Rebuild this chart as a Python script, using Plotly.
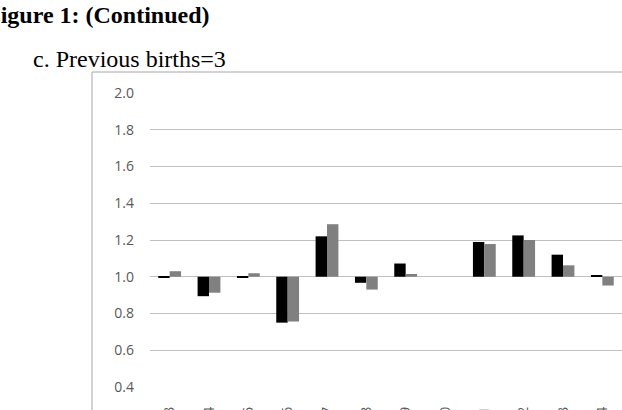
import plotly.graph_objects as go

# ---- data ----
categories = ["1993", "1994", "1995", "1996", "1997", "1998",
              "1999", "2000", "2001", "2002", "2003", "2004"]
series_black = [0.995, 0.894, 0.997, 0.750, 1.220, 0.967,
                1.072, 1.000, 1.189, 1.225, 1.120, 1.008]
series_gray = [1.030, 0.913, 1.019, 0.756, 1.286, 0.930,
               1.015, 1.000, 1.178, 1.200, 1.062, 0.952]
y_ticks = [0.4, 0.6, 0.8, 1.0, 1.2, 1.4, 1.6, 1.8, 2.0]
baseline = 1.0

W, H = 622, 410
ML, MR, MT, MB = 150, 0, 93, 23
PW, PH = W - ML - MR, H - MT - MB

fig = go.Figure()
fig.add_trace(go.Bar(
    x=categories, y=[v - baseline for v in series_black], base=baseline,
    marker=dict(color="#000000", line=dict(width=0)), name="A"))
fig.add_trace(go.Bar(
    x=categories, y=[v - baseline for v in series_gray], base=baseline,
    marker=dict(color="#808080", line=dict(width=0)), name="B"))

tick_font = dict(family="Open Sans", size=14, color="#595959")

fig.update_layout(
    width=W, height=H,
    margin=dict(l=ML, r=MR, t=MT, b=MB, pad=0, autoexpand=False),
    paper_bgcolor="white", plot_bgcolor="white",
    barmode="group", bargap=0.42, bargroupgap=0,
    showlegend=False,
    xaxis=dict(type="category", showgrid=False, showline=False, zeroline=False,
               tickangle=-90, tickfont=tick_font, ticks="",
               ticklabelstandoff=16, automargin=False),
    yaxis=dict(range=[0.3995, 2.0005], tickvals=y_ticks,
               ticktext=[f"{v:.1f}" for v in y_ticks],
               showgrid=True, gridcolor="#c0c0c0", gridwidth=1,
               showline=False, zeroline=False, ticks="",
               tickfont=tick_font, ticklabelstandoff=15, automargin=False),
)

# chart-area border (extends past the cropped right/bottom edges)
fig.add_shape(type="rect", xref="paper", yref="paper",
              x0=(92 - ML) / PW, x1=1.2, y0=-0.3, y1=(H - MB - 72) / PH,
              line=dict(color="#a6a6a6", width=1),
              fillcolor="rgba(0,0,0,0)", layer="below")

fig.add_annotation(text="<b>Figure 1: (Continued)</b>", xref="paper", yref="paper",
                   x=0, y=1, xanchor="left", yanchor="middle",
                   xshift=-166, yshift=MT - 15, showarrow=False,
                   font=dict(family="Liberation Serif", size=24, color="#000000"))
fig.add_annotation(text="c. Previous births=3", xref="paper", yref="paper",
                   x=0, y=1, xanchor="left", yanchor="middle",
                   xshift=-119, yshift=MT - 59, showarrow=False,
                   font=dict(family="Liberation Serif", size=24, color="#000000"))

fig.write_html("out.html")
